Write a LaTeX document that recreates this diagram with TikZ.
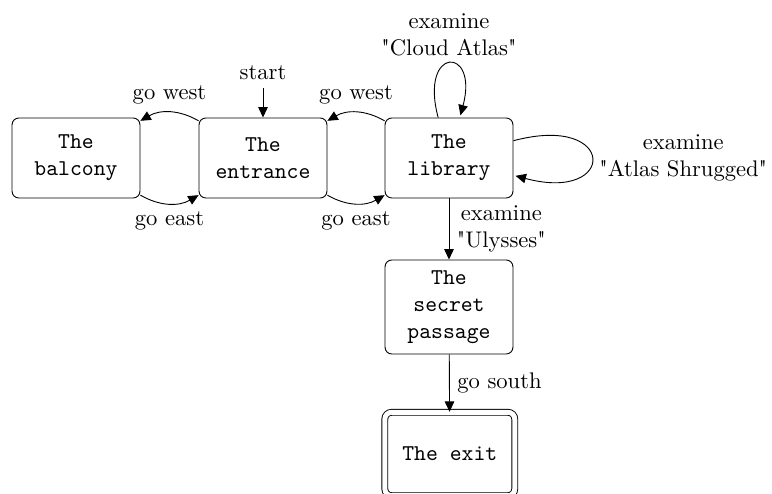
\documentclass[tikz,border=0pt]{standalone}
\usepackage{fontspec}
\usetikzlibrary{arrows.meta}
% Latin Modern Roman without the TeX input mapping, so " stays straight
\newfontfamily\plainqfont{lmroman10-regular.otf}
\newcommand\dq{{\plainqfont"}}
\begin{document}
\begin{tikzpicture}[x=0.4425pt, y=0.4425pt,
  >={Triangle[length=4.6pt,width=4.2pt]},
  room/.style={draw, rounded corners=3pt, minimum width=56.6pt,
    minimum height=35.4pt, align=center, font=\ttfamily, inner sep=2pt},
  lbl/.style={align=center},
]
\useasboundingbox (0,0) rectangle (772,494);

% rooms
\node[room] (balcony)  at (76,336)  {The\\balcony};
\node[room] (entrance) at (263,336) {The\\entrance};
\node[room] (library)  at (449,336) {The\\library};
\node[room, minimum height=41.6pt] (passage) at (449,187) {The\\secret\\passage};
\node[room, double, double distance=2.2pt, minimum width=57.5pt,
      minimum height=36.9pt] (exit) at (449.8,40) {The exit};

% initial marker
\node[anchor=south] (start) at (263,406) {start};
\draw[->] (start) -- (entrance);

% corridors
\draw[->] (entrance) to[bend right=30] node[above] {go west} (balcony);
\draw[->] (balcony)  to[bend right=30] node[below] {go east} (entrance);
\draw[->] (library)  to[bend right=30] node[above] {go west} (entrance);
\draw[->] (entrance) to[bend right=30] node[below] {go east} (library);

% books in the library
\path[->] (library) edge[every loop/.append style={looseness=8.8}, loop above]
  node[above, lbl] {examine\\\dq Cloud Atlas\dq} ();
\path[->] (library) edge[loop right] node[right, lbl] {examine\\\dq Atlas Shrugged\dq} ();
\draw[->] (library) -- node[right, lbl] {examine\\\dq Ulysses\dq} (passage);

\draw[->] (passage) -- node[right] {go south} (exit);
\end{tikzpicture}
\end{document}
